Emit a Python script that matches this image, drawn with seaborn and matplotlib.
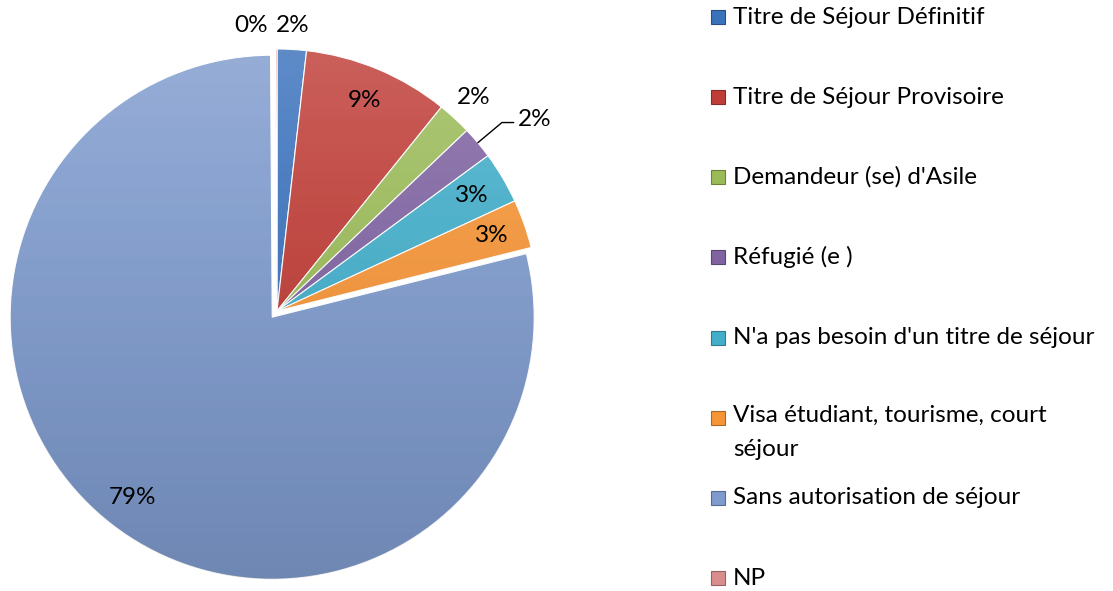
import matplotlib
matplotlib.use('Agg')
import matplotlib.pyplot as plt
import numpy as np
import seaborn as sns
from matplotlib.patches import Rectangle

# données (%)
categories = ["Titre de Séjour Définitif", "Titre de Séjour Provisoire",
              "Demandeur (se) d'Asile", "Réfugié (e )",
              "N'a pas besoin d'un titre de séjour",
              "Visa étudiant, tourisme, court\nséjour",
              "Sans autorisation de séjour", "NP"]
values = [1.8, 9.0, 2.1, 2.0, 3.2, 3.0, 78.8, 0.1]
colors = ['#3B72BC', '#BF3D37', '#9BBB59', '#8064A2',
          '#43AECA', '#F59538', '#7F9BCD', '#D88E8C']

sns.set_theme(style='white')
plt.rcParams['font.family'] = ['Lato', 'DejaVu Sans']
palette = sns.color_palette(colors)

W, H = 1113, 591
FS = 17.5
fig = plt.figure(figsize=(W / 100, H / 100), dpi=100)
cx, cy, R = 277, 311, 262
L = 1.15  # demi-largeur de l'axe en unités du rayon
ax = fig.add_axes([(cx - L * R) / W, (H - cy - L * R) / H, 2 * L * R / W, 2 * L * R / H])

explode = [0, 0, 0, 0, 0, 0, 0.03, 0]
wedges, _ = ax.pie(values, colors=palette, startangle=90, counterclock=False,
                   explode=explode, radius=1,
                   wedgeprops=dict(edgecolor='white', linewidth=0.8))

# petit effet de relief (haut clair, bas sombre)
t = np.linspace(0, 1, 256)[:, None]
white = np.zeros((256, 1, 4)); white[..., :3] = 1; white[..., 3] = 0.2 * (1 - t) ** 2
black = np.zeros((256, 1, 4)); black[..., 3] = 0.14 * t ** 2
for w in wedges:
    for g in (white, black):
        im = ax.imshow(g, extent=[-1.1, 1.1, -1.1, 1.1], aspect='auto', zorder=w.get_zorder() + 0.1)
        im.set_clip_path(w)

# étiquettes de pourcentage
total = sum(values)
label_r = [1.09, 0.87, 1.11, None, 0.865, 0.87, 0.87, 1.09]
label_ha = ['center', 'center', 'center', 'left', 'center', 'center', 'center', 'right']
for i, w in enumerate(wedges):
    mid = np.deg2rad((w.theta1 + w.theta2) / 2)
    x0, y0 = w.center
    txt = f"{values[i] / total * 100:.0f}%"
    if label_r[i] is None:
        ex, ey = x0 + np.cos(mid), y0 + np.sin(mid)
        bx, by = x0 + 1.12 * np.cos(mid), y0 + 1.12 * np.sin(mid)
        ax.plot([ex, bx, bx + 0.045], [ey, by, by], color='black', lw=1, zorder=5)
        ax.text(bx + 0.06, by + 0.01, txt, ha='left', va='center', fontsize=FS, color='black')
    else:
        r = label_r[i]
        xt = x0 + r * np.cos(mid) - (0.03 if label_ha[i] == 'right' else 0)
        ax.text(xt, y0 + r * np.sin(mid), txt,
                ha=label_ha[i], va='center', fontsize=FS, color='black')

ax.set_xlim(-L, L)
ax.set_ylim(-L, L)
ax.axis('off')

# légende à droite
slot0, slot_dy = 17, 80.15
for i, (lab, c) in enumerate(zip(categories, palette)):
    yp = slot0 + i * slot_dy
    fig.patches.append(Rectangle((711 / W, 1 - (yp + 7) / H), 14 / W, 14 / H,
                                 transform=fig.transFigure, facecolor=c,
                                 edgecolor=tuple(v * 0.7 for v in c), linewidth=0.8))
    if '\n' in lab:
        fig.text(733 / W, 1 - (yp - 13) / H, lab, ha='left', va='top',
                 fontsize=FS, linespacing=1.75, color='black')
    else:
        fig.text(733 / W, 1 - yp / H, lab, ha='left', va='center',
                 fontsize=FS, color='black')

fig.savefig('out.png', dpi=100)
